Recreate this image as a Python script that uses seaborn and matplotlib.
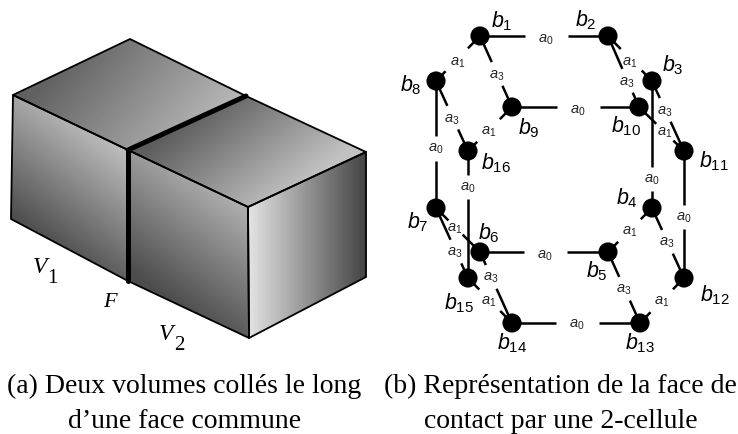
import numpy as np
import pandas as pd
import matplotlib
matplotlib.use("Agg")
import matplotlib.pyplot as plt
from matplotlib.patches import Polygon
import seaborn as sns

# ---- data: 2-cell graph ----
node_names = ["1","2","3","4","5","6","7","8","9","10","11","12","13","14","15","16"]
node_x = [480,608,652,652,608,480,436,436,512,639,684,684,640,512,468,468]
node_y = [37,37,82,209,253,253,209,82,108,108,152,279,324,324,279,152]
label_x = [502,586,673,627,597,489,418,411,529,626,714,715,640,512,459,496]
label_y = [21,20,65,198,271,233,222,85,128,126,161,295,343,343,303,163]

a0_edges = [("1","2"),("9","10"),("8","7"),("16","15"),("3","4"),("11","12"),("6","5"),("14","13")]
a0_lx = [546,578,436,468,652,684,545,577]
a0_ly = [39,110,149,188,180,218,256,325]
a0_gap = [21.5,21.5,12.5,12,12,12,21.5,21.5]

a1_edges = [("1","8"),("2","3"),("9","16"),("10","11"),("7","6"),("15","14"),("5","4"),("13","12")]
a1_lx = [458,630,489,665,455,489,630,662]
a1_ly = [62,62,132,133,229,302,232,302]
a1_gap = [16,15,16,12,10,15,16,16]

a3_edges = [("1","9"),("2","10"),("8","16"),("3","11"),("7","15"),("6","14"),("5","13"),("4","12")]
a3_lx = [497,627,452,665,455,491,624,667]
a3_ly = [75,82,119,111,253,278,290,243]
a3_gap = [13,13,13,13,13,13,13,13]

# ---- data: cubes ----
A, B, C, D = (130,40), (13,96), (128,151), (246,97)
E, F, G, H = (366,153), (248,208), (249,339), (366,278)
LL, CB = (11,220), (128,282)
faces = [
    ([A,B,C,D],     (70,50),  (200,160), 0.38, 0.74),
    ([D,E,F,C],     (200,105),(280,205), 0.36, 0.76),
    ([B,C,CB,LL],   (40,240), (125,130), 0.30, 0.80),
    ([C,F,G,CB],    (155,290),(245,170), 0.30, 0.78),
    ([F,E,H,G],     (250,0),  (366,0),   0.88, 0.26),
]
thick_lines = [(C, D), (C, CB)]

captions = [(184.5,393,"(a) Deux volumes collés le long"),
            (184.5,428,"d’une face commune"),
            (560.5,393,"(b) Représentation de la face de"),
            (560.5,428,"contact par une 2-cellule")]

sns.set_theme(style="white")
plt.rcParams["mathtext.fontset"] = "custom"
plt.rcParams["mathtext.it"] = "Liberation Sans:italic"
plt.rcParams["mathtext.rm"] = "Liberation Sans"
plt.rcParams["mathtext.default"] = "it"

fig = plt.figure(figsize=(7.38, 4.35), dpi=100)
ax = fig.add_axes([0, 0, 1, 1])
ax.set_xlim(0, 738); ax.set_ylim(435, 0); ax.axis("off")

# cube faces with linear grey gradients
yy, xx = np.mgrid[0:435, 0:738]
for poly, p0, p1, v0, v1 in faces:
    d = np.array(p1, float) - np.array(p0, float)
    t = ((xx - p0[0]) * d[0] + (yy - p0[1]) * d[1]) / (d @ d)
    img = v0 + (v1 - v0) * np.clip(t, 0, 1)
    im = ax.imshow(img, cmap="gray", vmin=0, vmax=1, extent=(0, 738, 435, 0),
                   aspect="auto", zorder=1, interpolation="bilinear")
    patch = Polygon(poly, closed=True, fc="none", ec="black", lw=1.3, zorder=2, joinstyle="round")
    ax.add_patch(patch)
    im.set_clip_path(patch)
ax.set_xlim(0, 738); ax.set_ylim(435, 0)
for p, q in thick_lines:
    ax.plot([p[0], q[0]], [p[1], q[1]], color="black", lw=3.6, zorder=3, solid_capstyle="round")

ax.text(33, 268, "V", family="Liberation Serif", style="italic", fontsize=17, ha="left", va="center", color="black")
ax.text(47, 279, "1", family="Liberation Serif", fontsize=15, ha="left", va="center", color="black")
ax.text(110, 303, "F", family="Liberation Serif", style="italic", fontsize=16, ha="center", va="center", color="black")
ax.text(159, 335, "V", family="Liberation Serif", style="italic", fontsize=17, ha="left", va="center", color="black")
ax.text(174, 346, "2", family="Liberation Serif", fontsize=15, ha="left", va="center", color="black")

# graph
pos = dict(zip(node_names, zip(node_x, node_y)))
for edges, lx, ly, gaps, sym in [(a0_edges, a0_lx, a0_ly, a0_gap, "0"),
                                 (a1_edges, a1_lx, a1_ly, a1_gap, "1"),
                                 (a3_edges, a3_lx, a3_ly, a3_gap, "3")]:
    for (u, v), x, y, g in zip(edges, lx, ly, gaps):
        p, q = np.array(pos[u], float), np.array(pos[v], float)
        L = np.linalg.norm(q - p)
        e = (q - p) / L
        s = (np.array([x, y]) - p) @ e
        a_end, b_start = p + e * (s - g), p + e * (s + g)
        ax.plot([p[0], a_end[0]], [p[1], a_end[1]], color="black", lw=1.8, zorder=4, solid_capstyle="butt")
        ax.plot([b_start[0], q[0]], [b_start[1], q[1]], color="black", lw=1.8, zorder=4, solid_capstyle="butt")
        ax.text(x, y, rf"$a_{{{sym}}}$", fontsize=10.5, ha="center", va="center", color="#222222", zorder=6)

nodes = pd.DataFrame({"x": node_x, "y": node_y})
sns.scatterplot(data=nodes, x="x", y="y", ax=ax, s=190, color="black", edgecolor="none", zorder=5, legend=False)
ax.set_xlabel(""); ax.set_ylabel("")
ax.set_xlim(0, 738); ax.set_ylim(435, 0)

for name, x, y in zip(node_names, label_x, label_y):
    ax.text(x, y, rf"$b_{{{name}}}$", fontsize=15.5, ha="center", va="center", color="black", zorder=6)

for x, y, s in captions:
    ax.text(x, y, s, family="Liberation Serif", fontsize=20, ha="center", va="baseline", color="black")

fig.savefig("out.png", dpi=100)
